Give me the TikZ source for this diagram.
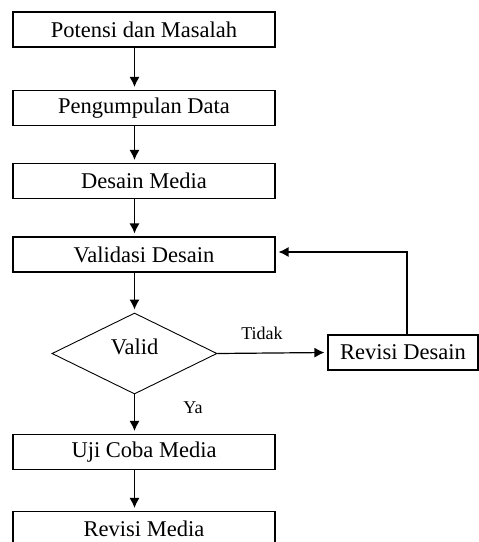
\documentclass[tikz,border=0pt]{standalone}
\usepackage{fontspec}
\setmainfont{Liberation Serif}
\usetikzlibrary{arrows.meta}
\usetikzlibrary{shapes.geometric}

\tikzset{
  stage/.style={draw, line width=1.1pt, minimum width=262pt, minimum height=35pt, inner sep=0pt},
  decide/.style={draw, diamond, line width=0.9pt, minimum width=165pt, minimum height=81pt, inner sep=0pt, aspect=2},
  arr/.style={line width=1.2pt, shorten >=3pt, -{Latex[length=10pt,width=10pt]}}
}

\begin{document}
\begin{tikzpicture}[x=1pt,y=-1pt,font=\fontsize{22.5}{26}\selectfont]
    \useasboundingbox (0,0) rectangle (479,542);

    % Define nodes
    \node[stage] (pm) at (144,29.5) {Potensi dan Masalah};
    \node[stage] (pd) at (144,108) {Pengumpulan Data};
    \node[stage] (dm) at (144,181) {Desain Media};
    \node[stage] (vd) at (144,254.5) {Validasi Desain};
    \node[decide] (valid) at (134.5,353.5) {};
    \node (validtext) at (134.5,347) {Valid};
    \node[stage, minimum width=150pt] (rd) at (403,352.5) {Revisi Desain};
    \node[stage] (ucm) at (144,452) {Uji Coba Media};
    \node[stage] (rm) at (144,529) {Revisi Media};

    % Draw arrows
    \draw[arr] (pm.south -| valid) -- (pd.north -| valid);
    \draw[arr] (pd.south -| valid) -- (dm.north -| valid);
    \draw[arr] (dm.south -| valid) -- (vd.north -| valid);
    \draw[arr] (vd.south -| valid) -- (valid.north);
    \draw[arr] (valid.east) -- (rd.west);
    \draw[arr] ([xshift=4pt]rd.north) |- ([yshift=2.5pt]vd.east);
    \draw[arr] (valid.south) -- (ucm.north -| valid);
    \draw[arr] (ucm.south -| valid) -- (rm.north -| valid);

    % Add labels
    \node[font=\fontsize{18}{20}\selectfont] (tidak) at (262,333) {Tidak};
    \node[font=\fontsize{18}{20}\selectfont] (ya) at (193,408) {Ya};
\end{tikzpicture}
\end{document}
